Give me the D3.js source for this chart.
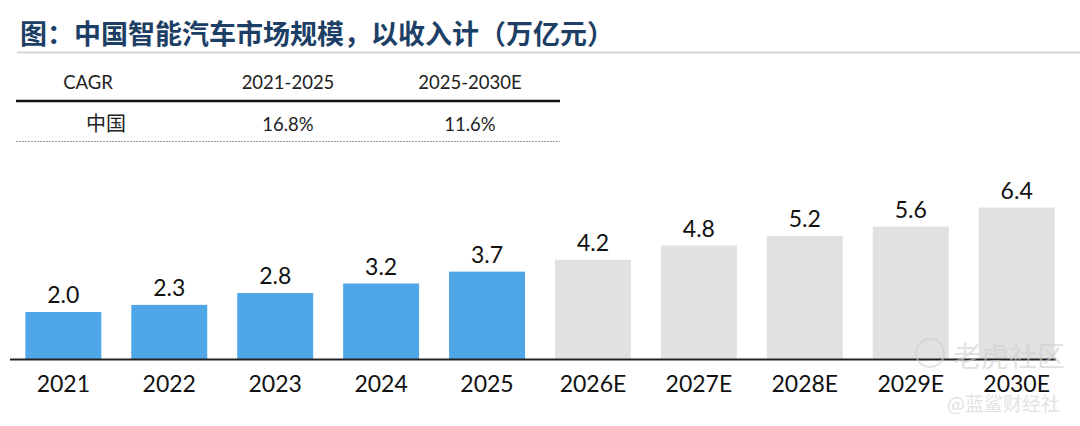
<!DOCTYPE html>
<html>
<head>
<meta charset="utf-8">
<script src="https://cdn.jsdelivr.net/npm/d3@7"></script>
<style>
  html, body { margin: 0; padding: 0; background: #fff; }
  svg { display: block; }
</style>
</head>
<body>
<svg id="chart" width="1080" height="426"></svg>
<script>
const titleText = "图：中国智能汽车市场规模，以收入计（万亿元）";
const categories = ["2021", "2022", "2023", "2024", "2025", "2026E", "2027E", "2028E", "2029E", "2030E"];
const values = [2.0, 2.3, 2.8, 3.2, 3.7, 4.2, 4.8, 5.2, 5.6, 6.4];
const isForecast = [false, false, false, false, false, true, true, true, true, true];
const tableHeader = ["CAGR", "2021-2025", "2025-2030E"];
const tableRow = ["中国", "16.8%", "11.6%"];

const svg = d3.select("#chart");
const cjk = "'Noto Sans CJK SC', sans-serif";
const num = "Lato, 'Open Sans', sans-serif";

// Title
svg.append("text")
  .attr("x", 20).attr("y", 44)
  .attr("font-family", cjk).attr("font-weight", 700)
  .attr("font-size", 27).attr("fill", "#1d3f66")
  .text(titleText);
svg.append("line")
  .attr("x1", 17).attr("x2", 1080).attr("y1", 52.5).attr("y2", 52.5)
  .attr("stroke", "#d6d6d6").attr("stroke-width", 2);

// Table
const colXs = [88, 288, 470];
svg.selectAll("text.th").data(tableHeader).join("text")
  .attr("class", "th")
  .attr("x", (d, i) => colXs[i]).attr("y", 89)
  .attr("text-anchor", "middle")
  .attr("font-family", num)
  .attr("font-size", 18.5).attr("fill", "#222")
  .text(d => d);
svg.append("line")
  .attr("x1", 16).attr("x2", 560).attr("y1", 101).attr("y2", 101)
  .attr("stroke", "#111").attr("stroke-width", 2.5);
svg.selectAll("text.tr").data(tableRow).join("text")
  .attr("class", "tr")
  .attr("x", (d, i) => i === 0 ? 106 : colXs[i]).attr("y", 131)
  .attr("text-anchor", "middle")
  .attr("font-family", (d, i) => i === 0 ? cjk : num)
  .attr("font-size", (d, i) => i === 0 ? 20 : 18.5).attr("fill", "#222")
  .text(d => d);
svg.append("line")
  .attr("x1", 16).attr("x2", 560).attr("y1", 141.5).attr("y2", 141.5)
  .attr("stroke", "#999").attr("stroke-width", 1)
  .attr("stroke-dasharray", "2,1");

// Chart
const x = d3.scaleBand()
  .domain(categories)
  .range([10, 1070])
  .paddingInner(0.283)
  .paddingOuter(0.145);
const y = d3.scaleLinear().domain([0, 7]).range([359.5, 359.5 - 7 * 23.75]);

svg.selectAll("rect.bar").data(values).join("rect")
  .attr("class", "bar")
  .attr("x", (d, i) => x(categories[i]))
  .attr("width", x.bandwidth())
  .attr("y", d => y(d))
  .attr("height", d => y(0) - y(d))
  .attr("fill", (d, i) => isForecast[i] ? "#e1e1e1" : "#4fa7e7");

svg.selectAll("text.val").data(values).join("text")
  .attr("class", "val")
  .attr("x", (d, i) => x(categories[i]) + x.bandwidth() / 2)
  .attr("y", d => y(d) - 9)
  .attr("text-anchor", "middle")
  .attr("font-family", num)
  .attr("font-size", 23).attr("fill", "#111")
  .text(d => d.toFixed(1));

const xAxis = svg.append("g")
  .attr("transform", `translate(0,${y(0)})`)
  .call(d3.axisBottom(x).tickSize(0).tickPadding(16));
xAxis.select(".domain").attr("stroke", "#222").attr("stroke-width", 2)
  .attr("d", "M10,0H1056");
xAxis.selectAll(".tick text")
  .attr("font-family", num)
  .attr("font-size", 23).attr("fill", "#111");

// Watermark
const wm = svg.append("g").attr("opacity", 0.6);
wm.append("circle").attr("cx", 930).attr("cy", 353).attr("r", 14)
  .attr("fill", "none").attr("stroke", "#cfcfcf").attr("stroke-width", 2);
wm.append("text").attr("x", 953).attr("y", 367)
  .attr("font-family", cjk).attr("font-size", 28).attr("fill", "#cfcfcf")
  .text("老虎社区");
wm.append("text").attr("x", 947).attr("y", 411)
  .attr("font-family", cjk).attr("font-size", 19).attr("fill", "#cfcfcf")
  .text("@蓝鲨财经社");
</script>
</body>
</html>
